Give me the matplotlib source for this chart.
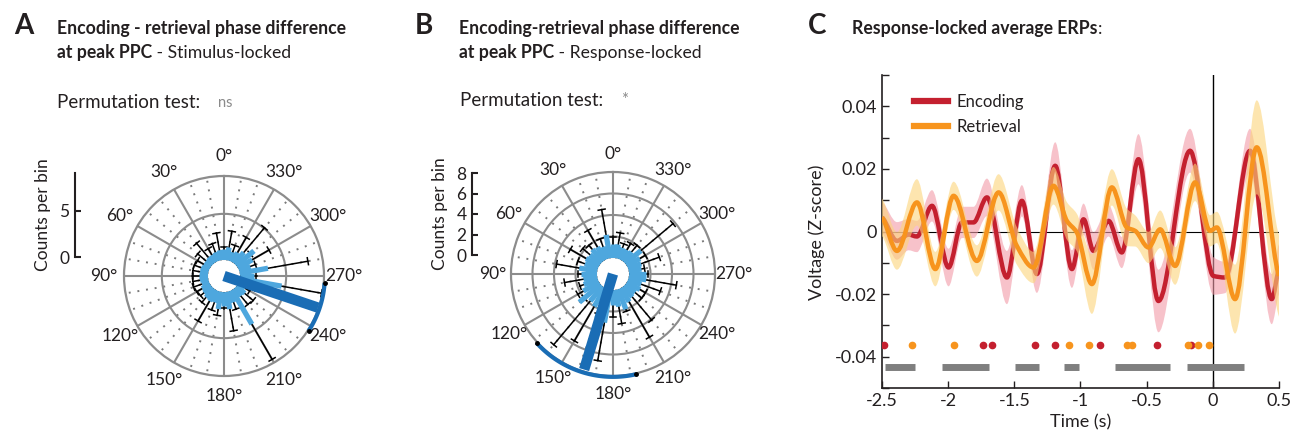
import numpy as np
import matplotlib.pyplot as plt
from matplotlib.path import Path
from matplotlib.patches import PathPatch
from matplotlib.lines import Line2D
from matplotlib.text import Annotation

plt.rcParams['font.family'] = ['Lato', 'DejaVu Sans']
TXT = '#231f20'

# ---- polar histograms (bin centres in degrees) ----
bin_deg = list(range(0, 360, 10))
theta_labels = [f'{a}°' for a in range(0, 360, 30)]

counts_a = [1.2, 1.1, 1.0, 0.9, 0.9, 0.8, 0.8, 0.9, 0.9, 1.0, 0.9, 0.8,
            1.0, 1.1, 1.3, 1.4, 1.3, 1.9, 1.5, 1.9, 1.3, 4.3, 1.1, 1.2,
            0.9, 1.0, 4.6, 1.5, 3.1, 1.3, 1.8, 2.5, 1.6, 1.2, 1.0, 1.4]
err_a = [1.4, 3.0, 2.0, 1.7, 2.9, 2.0, 1.6, 1.7, 1.7, 1.7, 1.7, 1.8,
         1.7, 1.6, 2.0, 3.9, 2.2, 2.6, 1.8, 4.3, 2.1, 8.7, 2.3, 2.4,
         1.5, 2.0, 9.0, 1.8, 7.5, 1.9, 3.9, 2.0, 5.1, 3.1, 1.8, 3.2]
mean_a = 251.4
len_a = 9.0
ci_a = (237.0, 266.0)

counts_b = [1.3, 2.2, 1.2, 1.4, 1.5, 1.3, 1.4, 1.3, 1.7, 1.5, 1.3, 1.4,
            1.7, 2.6, 1.8, 2.0, 2.9, 3.1, 1.4, 1.6, 2.0, 1.5, 1.3, 1.2,
            1.4, 1.3, 1.65, 1.6, 1.2, 1.3, 1.4, 1.9, 1.2, 1.1, 1.1, 1.3]
err_b = [2.0, 4.6, 2.0, 3.2, 2.0, 2.2, 3.1, 2.0, 3.85, 1.8, 3.1, 1.8,
         2.3, 2.0, 7.1, 5.7, 2.5, 6.7, 2.5, 3.2, 2.2, 5.3, 4.1, 2.0,
         2.0, 3.2, 4.5, 1.8, 1.5, 3.1, 2.0, 5.8, 2.0, 1.8, 1.5, 2.4]
mean_b = 163.2
len_b = 7.8
ci_b = (132.0, 193.0)

# ---- ERP curves (time s, z-score) ----
enc_t = [-2.5, -2.387, -2.299, -2.236, -2.122, -1.997, -1.896, -1.808, -1.707,
         -1.556, -1.443, -1.330, -1.191, -1.065, -0.977, -0.902, -0.788, -0.688,
         -0.562, -0.411, -0.172, 0.004, 0.093, 0.281, 0.445, 0.5]
enc_v = [0.0045, -0.003, -0.001, -0.0016, 0.0082, -0.0115, 0.0029, 0.0029, 0.0109,
         -0.0147, 0.0098, -0.0136, 0.021, -0.012, 0.0039, -0.0062, 0.0034, -0.0067,
         0.0231, -0.0222, 0.0258, -0.0142, -0.0147, 0.0258, -0.0216, -0.012]
enc_se = [0.005, 0.006, 0.005, 0.005, 0.005, 0.006, 0.005, 0.005, 0.006,
          0.0085, 0.005, 0.006, 0.0075, 0.006, 0.005, 0.006, 0.005, 0.005,
          0.008, 0.010, 0.007, 0.006, 0.005, 0.007, 0.008, 0.008]

ret_t = [-2.5, -2.387, -2.236, -2.097, -1.959, -1.783, -1.619, -1.481, -1.355,
         -1.204, -1.103, -1.028, -0.914, -0.763, -0.650, -0.587, -0.486, -0.398,
         -0.285, -0.134, -0.021, 0.030, 0.168, 0.332, 0.5]
ret_v = [0.0045, -0.0062, 0.0093, -0.012, 0.0114, -0.0094, 0.0125, -0.0046, -0.0115,
         0.0146, 0.0034, -0.0003, -0.0168, 0.0141, 0.0013, 0.0002, -0.0051, 0.0007,
         -0.011, 0.0157, 0.0002, 0.0013, -0.0216, 0.0269, -0.0142]
ret_se = [0.006, 0.006, 0.0074, 0.0055, 0.0045, 0.005, 0.0058, 0.006, 0.005,
          0.006, 0.006, 0.006, 0.0095, 0.0058, 0.006, 0.005, 0.005, 0.006,
          0.006, 0.006, 0.005, 0.005, 0.011, 0.015, 0.013]

enc_sig = [-2.485, -1.739, -1.669, -1.341, -1.192, -0.852, -0.424, -0.167]
ret_sig = [-2.275, -1.956, -1.084, -0.933, -0.646, -0.612, -0.187, -0.115, -0.03]
clust_start = [-2.475, -2.047, -1.493, -1.128, -0.738, -0.197]
clust_end = [-2.248, -1.695, -1.317, -1.015, -0.323, 0.238]

LIGHT = '#4ea7de'
DARK = '#1a6db5'
GRID = '#8c8c8c'
RED = '#c4202f'
ORANGE = '#f7941d'

W, H = 1290, 441
fig = plt.figure(figsize=(W / 100, H / 100), dpi=100)


def rose(cx, cy, R, rmax, hole, counts, errs, mean, length, ci, rings, lab_frac):
    ax = fig.add_axes([(cx - R) / W, 1 - (cy + R) / H, 2 * R / W, 2 * R / H],
                      projection='polar')
    ppu = (R - hole) / rmax
    rorig = -hole / ppu
    ax.set_theta_zero_location('N')
    ax.set_theta_direction(1)
    ax.set_rorigin(rorig)
    ax.set_ylim(0, rmax)
    ax.set_xticks(np.deg2rad(np.arange(0, 360, 30)))
    ax.set_xticklabels([])
    ax.set_xticks(np.deg2rad([a for a in range(0, 360, 10) if a % 30]), minor=True)
    ax.set_yticks(rings)
    ax.set_yticklabels([])
    ax.grid(True, which='major', color=GRID, lw=1.5, ls='-')
    ax.xaxis.grid(True, which='minor', color='#7a7a7a', lw=1.4, ls=(0, (1, 3.5)))
    ax.tick_params(axis='both', which='both', length=0)
    ax.spines['polar'].set_color(GRID)
    ax.spines['polar'].set_linewidth(1.6)
    ax.spines['inner'].set_color('none')
    ax.set_axisbelow(True)
    r_lab = rorig + lab_frac * (rmax - rorig)
    for a, s in zip(range(0, 360, 30), theta_labels):
        ax.text(np.deg2rad(a), r_lab, s, ha='center', va='center', fontsize=12.5,
                color=TXT, clip_on=False)
    th = np.deg2rad(bin_deg)
    for t, c, e in zip(th, counts, errs):
        ax.plot([t, t], [0, e], color='black', lw=1.1, zorder=3)
        d = 3.5 / ((e - rorig) * ppu)
        ax.plot([t - d, t + d], [e, e], color='black', lw=1.1, zorder=3)
        ax.plot([t, t], [0, c], color=LIGHT, lw=3.8, solid_capstyle='butt', zorder=4)
    m = np.deg2rad(mean)
    ax.plot([m, m], [rorig + 1e-6, length], color=DARK, lw=7.5,
            solid_capstyle='butt', zorder=5, clip_on=False)
    arc = np.deg2rad(np.linspace(ci[0], ci[1], 60))
    ax.plot(arc, np.full(arc.size, rmax * 1.01), color=DARK, lw=3, zorder=5,
            clip_on=False, solid_capstyle='butt')
    ax.plot(np.deg2rad(list(ci)), [rmax * 1.01] * 2, 'o', ms=2.5, color='black',
            zorder=6, clip_on=False)
    return ax


def scale_bar(x, y0, y1, rmax, ticks, label_x):
    sa = fig.add_axes([x / W, 1 - y0 / H, 0.0001, (y0 - y1) / H])
    sa.set_ylim(0, rmax)
    for s in ['top', 'right', 'bottom']:
        sa.spines[s].set_visible(False)
    sa.spines['left'].set_linewidth(1.5)
    sa.spines['left'].set_color(TXT)
    sa.set_xticks([])
    sa.set_yticks(ticks)
    sa.set_yticklabels([str(t) for t in ticks])
    sa.tick_params(axis='y', direction='in', length=4, width=1.5, labelsize=12.5,
                   pad=4, colors=TXT)
    fig.text(label_x / W, 1 - (y0 + y1) / 2 / H, 'Counts per bin', rotation=90,
             ha='center', va='center', fontsize=12.5, color=TXT)


rose(224, 276, 100, 9.1, 16, counts_a, err_a, mean_a, len_a, ci_a, [5], 1.2)
scale_bar(75, 257, 173, 9.1, [0, 5], 43)
rose(613, 274, 102, 8.0, 16, counts_b, err_b, mean_b, len_b, ci_b, [2, 4, 6], 1.18)
scale_bar(472, 255, 173, 8.0, [0, 2, 4, 6, 8], 440)


# ---- ERP panel ----
def smooth_verts(x, y):
    x = np.asarray(x, float)
    y = np.asarray(y, float)
    h = np.diff(x)
    d = np.diff(y) / h
    m = np.zeros_like(y)
    for i in range(1, len(x) - 1):
        if d[i - 1] * d[i] > 0:
            w1 = 2 * h[i] + h[i - 1]
            w2 = h[i] + 2 * h[i - 1]
            m[i] = (w1 + w2) / (w1 / d[i - 1] + w2 / d[i])
    m[0] = d[0] * 0.5
    m[-1] = d[-1] * 0.5
    v = [(x[0], y[0])]
    for i in range(len(x) - 1):
        v += [(x[i] + h[i] / 3, y[i] + m[i] * h[i] / 3),
              (x[i + 1] - h[i] / 3, y[i + 1] - m[i + 1] * h[i] / 3),
              (x[i + 1], y[i + 1])]
    return v


def curve(ax, t, v, color, lw, z):
    verts = smooth_verts(t, v)
    codes = [Path.MOVETO] + [Path.CURVE4] * (len(verts) - 1)
    ax.add_patch(PathPatch(Path(verts, codes), fill=False, edgecolor=color,
                           lw=lw, zorder=z, capstyle='butt', joinstyle='round'))


def band(ax, t, v, se, color, alpha, z):
    t = np.asarray(t)
    v = np.asarray(v)
    se = np.asarray(se)
    up = smooth_verts(t, v + se)
    lo = smooth_verts(t[::-1], (v - se)[::-1])
    verts = up + lo + [up[0]]
    codes = ([Path.MOVETO] + [Path.CURVE4] * (len(up) - 1) + [Path.LINETO]
             + [Path.CURVE4] * (len(lo) - 1) + [Path.CLOSEPOLY])
    ax.add_patch(PathPatch(Path(verts, codes), facecolor=color, edgecolor='none',
                           alpha=alpha, zorder=z))


ax = fig.add_axes([882 / W, 1 - 388 / H, 397 / W, 313 / H])
ax.set_xlim(-2.5, 0.5)
ax.set_ylim(-0.05, 0.05)
for s in ['top', 'right']:
    ax.spines[s].set_visible(False)
for s in ['left', 'bottom']:
    ax.spines[s].set_linewidth(1.2)
    ax.spines[s].set_color(TXT)
ax.set_xticks([-2.5, -2, -1.5, -1, -0.5, 0, 0.5])
ax.set_xticklabels(['-2.5', '-2', '-1.5', '-1', '-0.5', '0', '0.5'])
ax.set_yticks([-0.04, -0.02, 0, 0.02, 0.04])
ax.set_yticklabels(['-0.04', '-0.02', '0', '0.02', '0.04'])
ax.set_yticks([-0.05, -0.03, -0.01, 0.01, 0.03, 0.05], minor=True)
ax.tick_params(which='both', direction='in', length=5, width=1, labelsize=13,
               colors=TXT)
ax.axhline(0, color='black', lw=0.8, zorder=1)
ax.axvline(0, color='black', lw=1.0, zorder=1)

band(ax, enc_t, enc_v, enc_se, '#f29aa8', 0.6, 2)
curve(ax, enc_t, enc_v, RED, 3.2, 3)
band(ax, ret_t, ret_v, ret_se, '#fcd57a', 0.6, 4)
curve(ax, ret_t, ret_v, ORANGE, 3.2, 5)

ax.plot(enc_sig, [-0.0364] * len(enc_sig), 'o', ms=4.5, color=RED, zorder=6)
ax.plot(ret_sig, [-0.0364] * len(ret_sig), 'o', ms=4.5, color=ORANGE, zorder=6)
ax.hlines([-0.0432] * len(clust_start), clust_start, clust_end, color='#7f7f7f',
          lw=5, zorder=6)

handles = [Line2D([], [], color=RED, lw=4.5), Line2D([], [], color=ORANGE, lw=4.5)]
ax.legend(handles, ['Encoding', 'Retrieval'], loc='upper left',
          bbox_to_anchor=(0.065, 0.96), frameon=False, fontsize=12,
          handlelength=2.0, handletextpad=0.5, borderaxespad=0, labelcolor=TXT)
ax.set_xlabel('Time (s)', fontsize=13, color=TXT, labelpad=4)
fig.text(817 / W, 1 - 232 / H, 'Voltage (Z-score)', rotation=90, ha='center',
         va='center', fontsize=13, color=TXT)

# ---- titles ----
for x, lab in [(24, 'A'), (424, 'B'), (817, 'C')]:
    fig.text(x / W, 1 - 26 / H, lab, fontsize=20, weight='bold', ha='center',
             va='center', color=TXT)

TS = 12.7


def two_part(x, y, bold, plain):
    t = fig.text(x / W, 1 - y / H, bold, fontsize=TS, weight='bold',
                 va='baseline', color=TXT)
    fig.add_artist(Annotation(plain, xy=(1, 0), xycoords=t, va='bottom',
                              fontsize=TS, color=TXT))


fig.text(57 / W, 1 - 34 / H, 'Encoding - retrieval phase difference', fontsize=TS,
         weight='bold', va='baseline', color=TXT)
two_part(57, 58, 'at peak PPC', ' - Stimulus-locked')
fig.text(459 / W, 1 - 34 / H, 'Encoding-retrieval phase difference', fontsize=TS,
         weight='bold', va='baseline', color=TXT)
two_part(459, 58, 'at peak PPC', ' - Response-locked')
two_part(852, 34, 'Response-locked average ERPs', ':')

fig.text(57 / W, 1 - 102 / H, 'Permutation test:', fontsize=13.5, va='center', color=TXT)
fig.text(218 / W, 1 - 103 / H, 'ns', fontsize=10.5, va='center', color='#8a8a8a')
fig.text(460 / W, 1 - 101 / H, 'Permutation test:', fontsize=13.5, va='center', color=TXT)
fig.text(621 / W, 1 - 100 / H, '*', fontsize=12, va='center', color='#8a8a8a')

fig.savefig('out.png', dpi=100)
